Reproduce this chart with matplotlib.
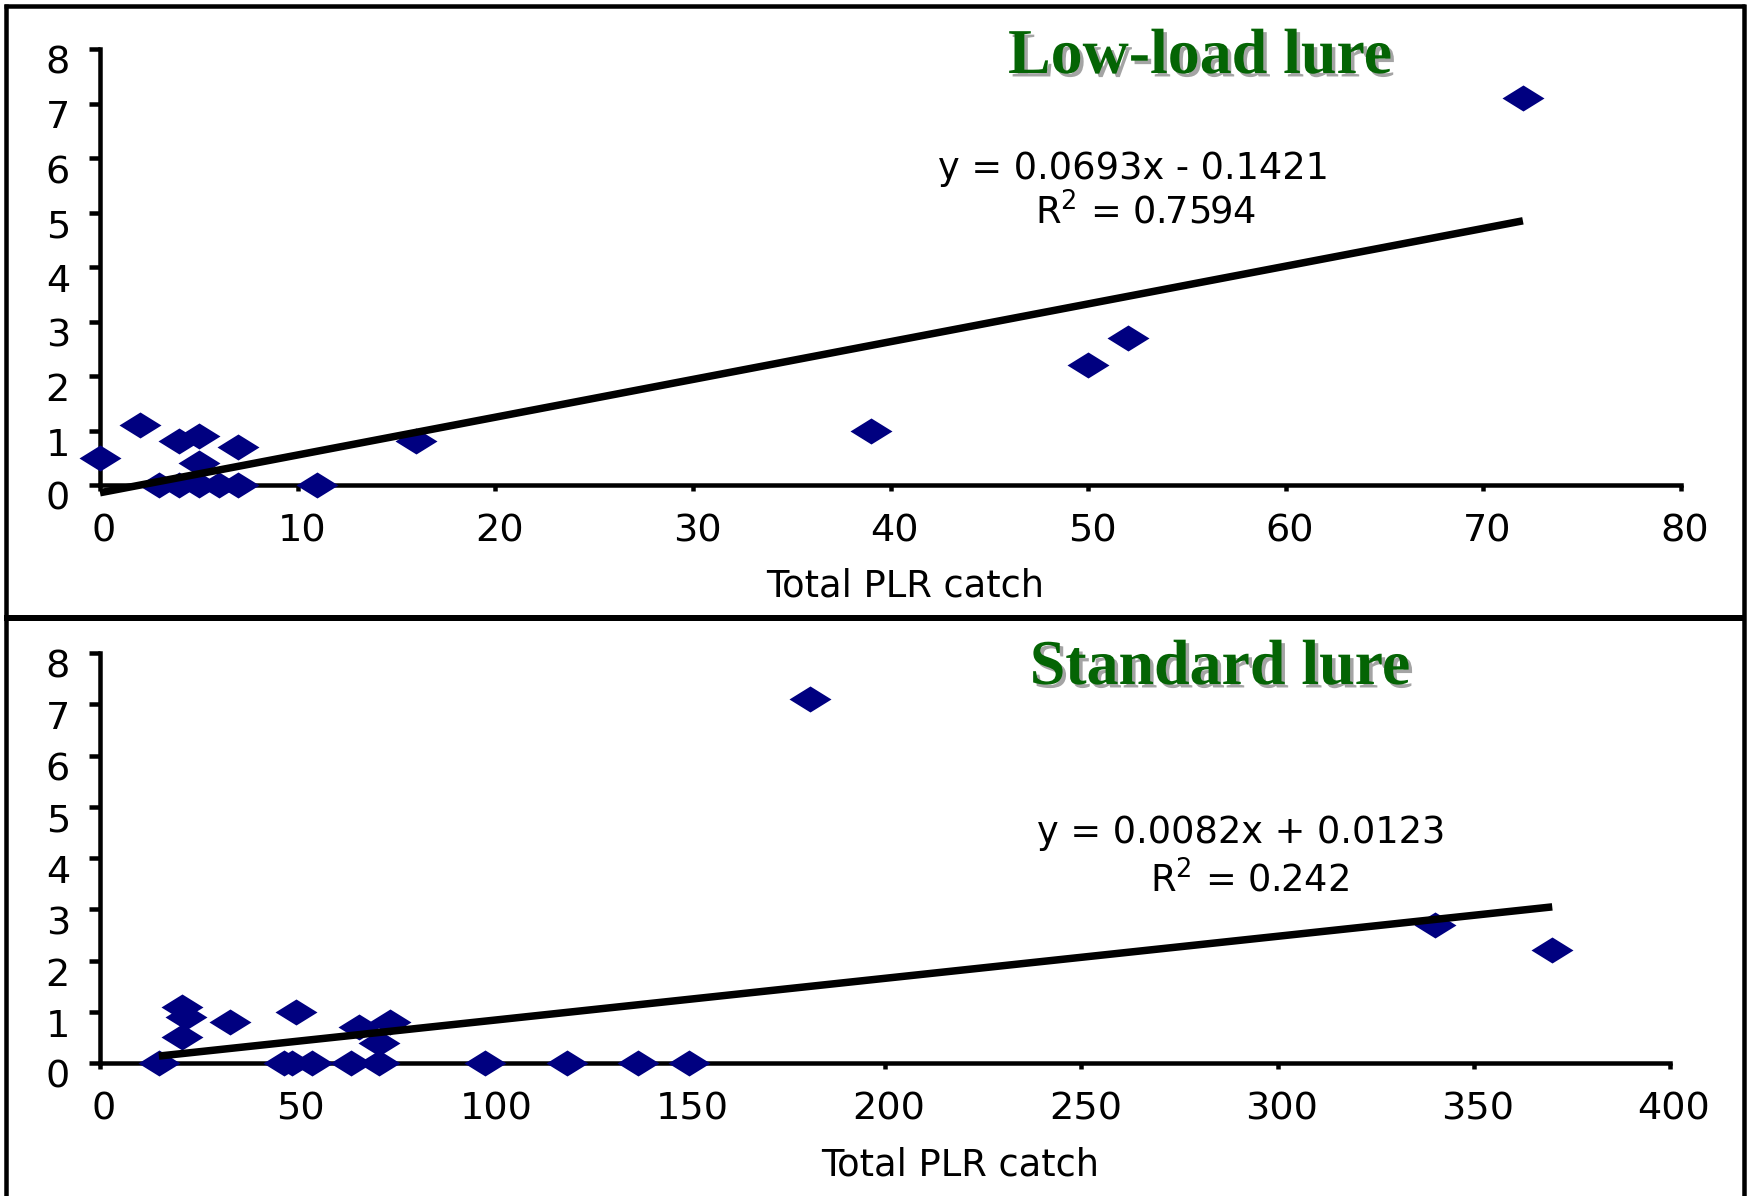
import matplotlib
matplotlib.use("Agg")
import matplotlib.pyplot as plt
import matplotlib.patheffects as pe
import matplotlib.transforms as mtrans
from matplotlib.path import Path
from matplotlib.lines import Line2D
import numpy as np

# ---- data -------------------------------------------------------------
low_x = [0, 2, 4, 5, 5, 7, 3, 4, 5, 6, 7, 11, 16, 39, 50, 52, 72]
low_y = [0.5, 1.1, 0.8, 0.9, 0.4, 0.7, 0, 0, 0, 0, 0, 0, 0.8, 1.0, 2.2, 2.7, 7.1]
low_fit = (0.0693, -0.1421)
low_r2 = "0.7594"

std_x = [15, 21, 22, 21, 33, 50, 47, 49, 54, 64, 66, 71, 74, 71, 98, 119, 137, 150, 181, 340, 370]
std_y = [0, 1.1, 0.9, 0.5, 0.8, 1.0, 0, 0, 0, 0, 0.7, 0.4, 0.8, 0, 0, 0, 0, 0, 7.1, 2.7, 2.2]
std_fit = (0.0082, 0.0123)
std_r2 = "0.242"

low_xticks = [0, 10, 20, 30, 40, 50, 60, 70, 80]
std_xticks = [0, 50, 100, 150, 200, 250, 300, 350, 400]
yticks = [0, 1, 2, 3, 4, 5, 6, 7, 8]
titles = ["Low-load lure", "Standard lure"]
xlabel = "Total PLR catch"

# ---- canvas -----------------------------------------------------------
W, H, DPI = 1747, 1196, 100
fig = plt.figure(figsize=(W / DPI, H / DPI), dpi=DPI)
fig.patch.set_facecolor("white")


def fx(px):
    return px / W


def fy(py):
    return 1 - py / H


def px2pt(px):
    return px * 72.0 / DPI


MARKER_COLOR = "#000080"
TITLE_COLOR = "#046404"
SANS = "DejaVu Sans"
diamond = Path([(-1, 0), (0, 0.62), (1, 0), (0, -0.62), (-1, 0)],
               [Path.MOVETO, Path.LINETO, Path.LINETO, Path.LINETO, Path.CLOSEPOLY])


def fmt_eq(slope, icpt):
    sign = "-" if icpt < 0 else "+"
    return f"y = {slope:.4f}x {sign} {abs(icpt):.4f}"


def panel(box, xs, ys, xticks, fit, r2, title, title_pos, eq_pos, r2_pos, xl_pos):
    left, top, right, bottom = box
    ax = fig.add_axes([fx(left), fy(bottom), (right - left) / W, (bottom - top) / H])
    ax.set_xlim(xticks[0], xticks[-1])
    ax.set_ylim(yticks[0], yticks[-1])
    ax.set_xticks(xticks)
    ax.set_yticks(yticks)
    for s in ("top", "right"):
        ax.spines[s].set_visible(False)
    for s in ("left", "bottom"):
        ax.spines[s].set_linewidth(px2pt(4.5))
        ax.spines[s].set_color("black")
        ax.spines[s].set_capstyle("projecting")
    ax.tick_params(axis="y", direction="out", length=px2pt(11), width=px2pt(4.5),
                   pad=px2pt(19), labelsize=27.5)
    ax.tick_params(axis="x", direction="out", length=px2pt(6), width=px2pt(4.5),
                   pad=px2pt(23), labelsize=27.5)
    for lab in ax.get_yticklabels() + ax.get_xticklabels():
        lab.set_fontfamily(SANS)
    # tick labels sit a little below / right of their tick marks
    yshift = mtrans.ScaledTranslation(0, -11 / DPI, fig.dpi_scale_trans)
    for lab in ax.get_yticklabels():
        lab.set_transform(lab.get_transform() + yshift)
    xshift = mtrans.ScaledTranslation(4 / DPI, 0, fig.dpi_scale_trans)
    for lab in ax.get_xticklabels():
        lab.set_transform(lab.get_transform() + xshift)
    ax.set_facecolor("none")

    ax.plot(xs, ys, linestyle="none", marker=diamond, markersize=px2pt(42),
            color=MARKER_COLOR, markeredgewidth=0, clip_on=False, zorder=3)

    slope, icpt = fit
    xl = np.array([min(xs), max(xs)], dtype=float)
    ax.plot(xl, slope * xl + icpt, color="black", lw=px2pt(7.5),
            solid_capstyle="butt", clip_on=False, zorder=4)

    fig.text(fx(title_pos[0]), fy(title_pos[1]), title, ha="center", va="baseline",
             fontsize=46, fontweight="bold", family="Liberation Serif",
             color=TITLE_COLOR,
             path_effects=[pe.SimplePatchShadow(offset=(2.5, -2.5),
                                                shadow_rgbFace="#9a9a9a", alpha=0.9),
                           pe.Normal()])
    fig.text(fx(eq_pos[0]), fy(eq_pos[1]), fmt_eq(slope, icpt), ha="center",
             va="baseline", fontsize=26.5, family=SANS, color="black")
    fig.text(fx(r2_pos[0]), fy(r2_pos[1]), "R$^{2}$ = " + r2, ha="center",
             va="baseline", fontsize=26.5, family=SANS, color="black")
    fig.text(fx(xl_pos[0]), fy(xl_pos[1]), xlabel, ha="center", va="baseline",
             fontsize=26.5, family=SANS, color="black")
    return ax


panel((100, 49, 1681, 485), low_x, low_y, low_xticks, low_fit, low_r2, titles[0],
      (1200, 73), (1133, 179), (1146, 224), (905, 597))
panel((100, 653, 1670, 1063), std_x, std_y, std_xticks, std_fit, std_r2, titles[1],
      (1220, 684), (1241, 843), (1250, 892), (960, 1176))

# ---- outer frame and divider -------------------------------------------
frame_lw = px2pt(4.5)
for (x0, y0, x1, y1, lw) in [
    (4, 6, 1745, 6, frame_lw),
    (6, 4, 6, 1196, frame_lw),
    (1744, 4, 1744, 1196, frame_lw),
    (4, 618, 1745, 618, px2pt(6)),
]:
    fig.add_artist(Line2D([fx(x0), fx(x1)], [fy(y0), fy(y1)],
                          transform=fig.transFigure, color="black", lw=lw,
                          solid_capstyle="butt"))

fig.savefig("out.png", dpi=DPI, facecolor="white")
